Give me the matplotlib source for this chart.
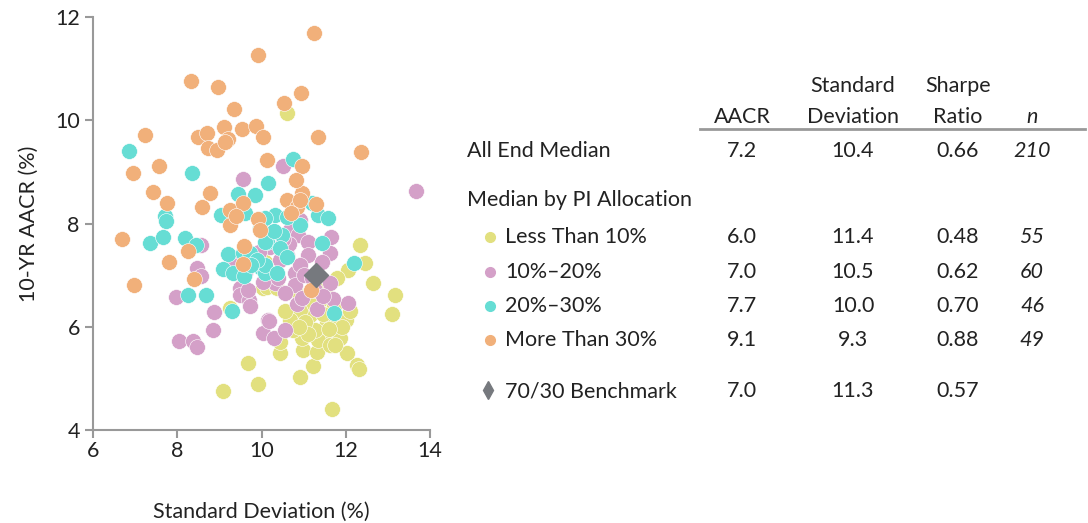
import matplotlib
matplotlib.use("Agg")
import matplotlib.pyplot as plt

plt.rcParams['font.family'] = ['Lato', 'DejaVu Sans']

# scatter data: (standard deviation %, 10-yr AACR %)
less10_x = [10.61, 12.34, 12.46, 12.06, 11.80, 12.65, 13.17, 13.10, 10.09, 10.04, 9.25, 9.68, 9.92,
            9.09, 10.92, 11.68, 11.23, 10.44, 10.99, 11.32, 12.03, 12.27, 12.32, 11.08, 10.96, 11.56,
            11.87, 11.87, 11.56, 11.80, 11.34, 10.75, 10.44, 10.80, 10.13, 10.37, 11.39, 11.15, 11.63,
            11.27, 12.00, 11.75, 10.92, 10.68, 11.51, 11.73, 11.92, 11.47, 11.03, 11.25, 11.10, 10.90,
            11.60, 12.10, 10.55]
less10_y = [10.14, 7.58, 7.23, 7.10, 6.94, 6.85, 6.61, 6.24, 7.25, 6.75, 6.36, 5.29, 4.89,
            4.75, 5.02, 4.40, 5.24, 5.49, 5.55, 5.51, 5.49, 5.26, 5.18, 6.03, 5.78, 5.88,
            5.97, 5.78, 6.07, 6.19, 5.74, 5.93, 5.70, 6.71, 6.77, 6.75, 6.52, 6.22, 5.64,
            5.93, 6.13, 5.64, 6.32, 6.13, 6.71, 6.40, 6.00, 6.25, 6.10, 6.45, 5.85, 6.00,
            5.95, 6.30, 6.30]

pi10_20_x = [9.56, 10.51, 13.67, 10.75, 10.68, 10.87, 11.11, 11.65, 11.63, 11.11, 10.80, 10.80,
             10.32, 11.63, 8.57, 9.42, 8.47, 8.57, 9.52, 10.04, 7.97, 9.49, 9.49, 9.71, 9.73, 8.87,
             10.16, 10.04, 8.85, 8.04, 8.38, 8.47, 12.06, 11.70, 11.32, 10.85, 10.18, 10.30, 10.56,
             10.92, 10.61, 10.44, 10.92, 10.56, 11.27, 9.85, 9.68, 11.44, 10.20, 10.65, 11.00,
             9.95, 10.40, 11.20, 9.30, 10.50, 11.45, 10.10, 9.60, 10.95]
pi10_20_y = [8.86, 9.11, 8.63, 8.03, 7.87, 7.78, 7.64, 7.74, 7.43, 7.39, 7.04, 6.81,
             6.85, 6.85, 7.58, 7.33, 7.14, 6.98, 6.77, 6.86, 6.57, 6.75, 6.61, 6.52, 6.40, 6.28,
             6.13, 5.88, 5.93, 5.72, 5.72, 5.60, 6.46, 6.53, 6.34, 6.44, 6.11, 5.78, 5.93,
             8.07, 7.39, 7.29, 7.19, 6.65, 6.71, 7.29, 6.71, 7.25, 7.55, 7.60, 7.00,
             7.45, 6.95, 6.95, 7.20, 7.70, 6.60, 7.10, 7.05, 6.55]

pi20_30_x = [6.86, 8.35, 10.75, 10.16, 9.44, 9.04, 9.61, 7.71, 7.73, 9.97, 7.35, 7.66, 8.19,
             8.45, 9.21, 9.56, 9.73, 9.09, 9.33, 9.59, 9.97, 10.09, 10.13, 11.20, 11.34, 11.58,
             10.32, 10.09, 10.61, 10.49, 10.09, 11.44, 10.44, 12.20, 10.09, 10.37, 8.26, 8.68,
             9.30, 11.72, 9.85, 10.92, 10.30, 9.90, 10.60, 9.75]
pi20_30_y = [9.40, 8.98, 9.25, 8.78, 8.57, 8.16, 8.20, 8.14, 8.05, 7.91, 7.62, 7.74, 7.72,
             7.58, 7.41, 7.43, 7.43, 7.12, 7.04, 6.98, 7.16, 7.04, 7.64, 8.40, 8.16, 8.10,
             8.16, 8.10, 8.12, 7.78, 7.64, 7.62, 7.52, 7.23, 7.19, 7.04, 6.61, 6.61,
             6.30, 6.26, 8.55, 7.97, 7.85, 7.30, 7.35, 7.20]

over30_x = [11.25, 9.92, 8.33, 8.97, 10.94, 10.54, 9.35, 7.24, 8.49, 8.71, 9.11, 9.21, 9.54,
            9.87, 10.04, 11.34, 12.37, 8.73, 8.95, 10.13, 7.57, 6.95, 10.96, 7.43, 8.78, 7.76,
            8.59, 9.25, 9.56, 10.96, 10.61, 10.85, 11.30, 9.92, 9.25, 6.69, 8.26, 9.59, 7.81,
            9.56, 8.40, 6.97, 11.18, 10.82, 10.92, 9.14, 9.97, 10.70, 9.40]
over30_y = [11.69, 11.26, 10.76, 10.64, 10.53, 10.33, 10.22, 9.71, 9.67, 9.75, 9.87, 9.64, 9.83,
            9.89, 9.67, 9.67, 9.38, 9.46, 9.42, 9.23, 9.11, 8.98, 9.11, 8.61, 8.59, 8.40,
            8.32, 8.26, 8.40, 8.59, 8.45, 8.32, 8.38, 8.09, 7.97, 7.70, 7.47, 7.56, 7.25,
            7.21, 6.92, 6.81, 6.71, 8.84, 8.45, 9.58, 7.87, 8.20, 8.15]

bench_x = [11.3]
bench_y = [7.0]

# table
header1 = ['', 'Standard', 'Sharpe', '']
header2 = ['AACR', 'Deviation', 'Ratio', 'n']
row_labels = ['Less Than 10%', '10%\u201320%', '20%\u201330%', 'More Than 30%']
all_row = ['7.2', '10.4', '0.66', '210']
group_rows = [['6.0', '11.4', '0.48', '55'],
              ['7.0', '10.5', '0.62', '60'],
              ['7.7', '10.0', '0.70', '46'],
              ['9.1', '9.3', '0.88', '49']]
bench_row = ['7.0', '11.3', '0.57', '']

colors = ['#e2e07f', '#d4a0c8', '#66ddd4', '#f1b07a']
bench_color = '#76797e'
FS = 15.5

W, H = 1088, 523
fig = plt.figure(figsize=(W / 100, H / 100), dpi=100)
ax = fig.add_axes([93 / W, 1 - 430 / H, 337 / W, 413 / H])

groups = [(less10_x, less10_y), (pi10_20_x, pi10_20_y), (pi20_30_x, pi20_30_y), (over30_x, over30_y)]
for (gx, gy), c in zip(groups, colors):
    ax.scatter(gx, gy, s=130, color=c, edgecolors='white', linewidths=0.4, zorder=2)
ax.scatter(bench_x, bench_y, marker='D', s=150, color=bench_color, zorder=3)

ax.set_xlim(6, 14)
ax.set_ylim(4, 12)
ax.set_xticks([6, 8, 10, 12, 14])
ax.set_yticks([4, 6, 8, 10, 12])
for s in ['top', 'right']:
    ax.spines[s].set_visible(False)
for s in ['left', 'bottom']:
    ax.spines[s].set_color('#999999')
    ax.spines[s].set_linewidth(1.5)
ax.tick_params(colors='#999999', labelcolor='#222222', labelsize=FS, length=6, width=1.5, direction='out')
ax.tick_params(axis='x', pad=2)
ax.set_xlabel('Standard Deviation (%)', fontsize=FS, color='#222222', labelpad=29)
ax.set_ylabel('10-YR AACR (%)', fontsize=FS, color='#222222', labelpad=12)


def put(x, y, s, ha='left', style='normal'):
    fig.text(x / W, 1 - y / H, s, ha=ha, va='center', fontsize=FS, color='#222222', style=style)


cols = [742, 853, 958, 1032]
for cx, s in zip(cols, header1):
    put(cx, 86, s, ha='center')
for i, (cx, s) in enumerate(zip(cols, header2)):
    put(cx, 117, s, ha='center', style='italic' if i == 3 else 'normal')
fig.add_artist(plt.Line2D([700 / W, 1085 / W], [1 - 129 / H, 1 - 129 / H], color='#999999', lw=2))

put(467, 151, 'All End Median')
for i, (cx, s) in enumerate(zip(cols, all_row)):
    put(cx, 151, s, ha='center', style='italic' if i == 3 else 'normal')

put(467, 200, 'Median by PI Allocation')
row_y = [237, 272, 306, 340]
for yy, lab, vals, c in zip(row_y, row_labels, group_rows, colors):
    fig.add_artist(plt.Line2D([490 / W], [1 - yy / H], marker='o', markersize=7, color=c, lw=0))
    put(505, yy, lab)
    for i, (cx, s) in enumerate(zip(cols, vals)):
        put(cx, yy, s, ha='center', style='italic' if i == 3 else 'normal')

fig.add_artist(plt.Line2D([488 / W], [1 - 390 / H], marker='d', markersize=9, color=bench_color, lw=0))
put(505, 391, '70/30 Benchmark')
for cx, s in zip(cols, bench_row):
    put(cx, 391, s, ha='center')

fig.savefig('out.png', dpi=100)
